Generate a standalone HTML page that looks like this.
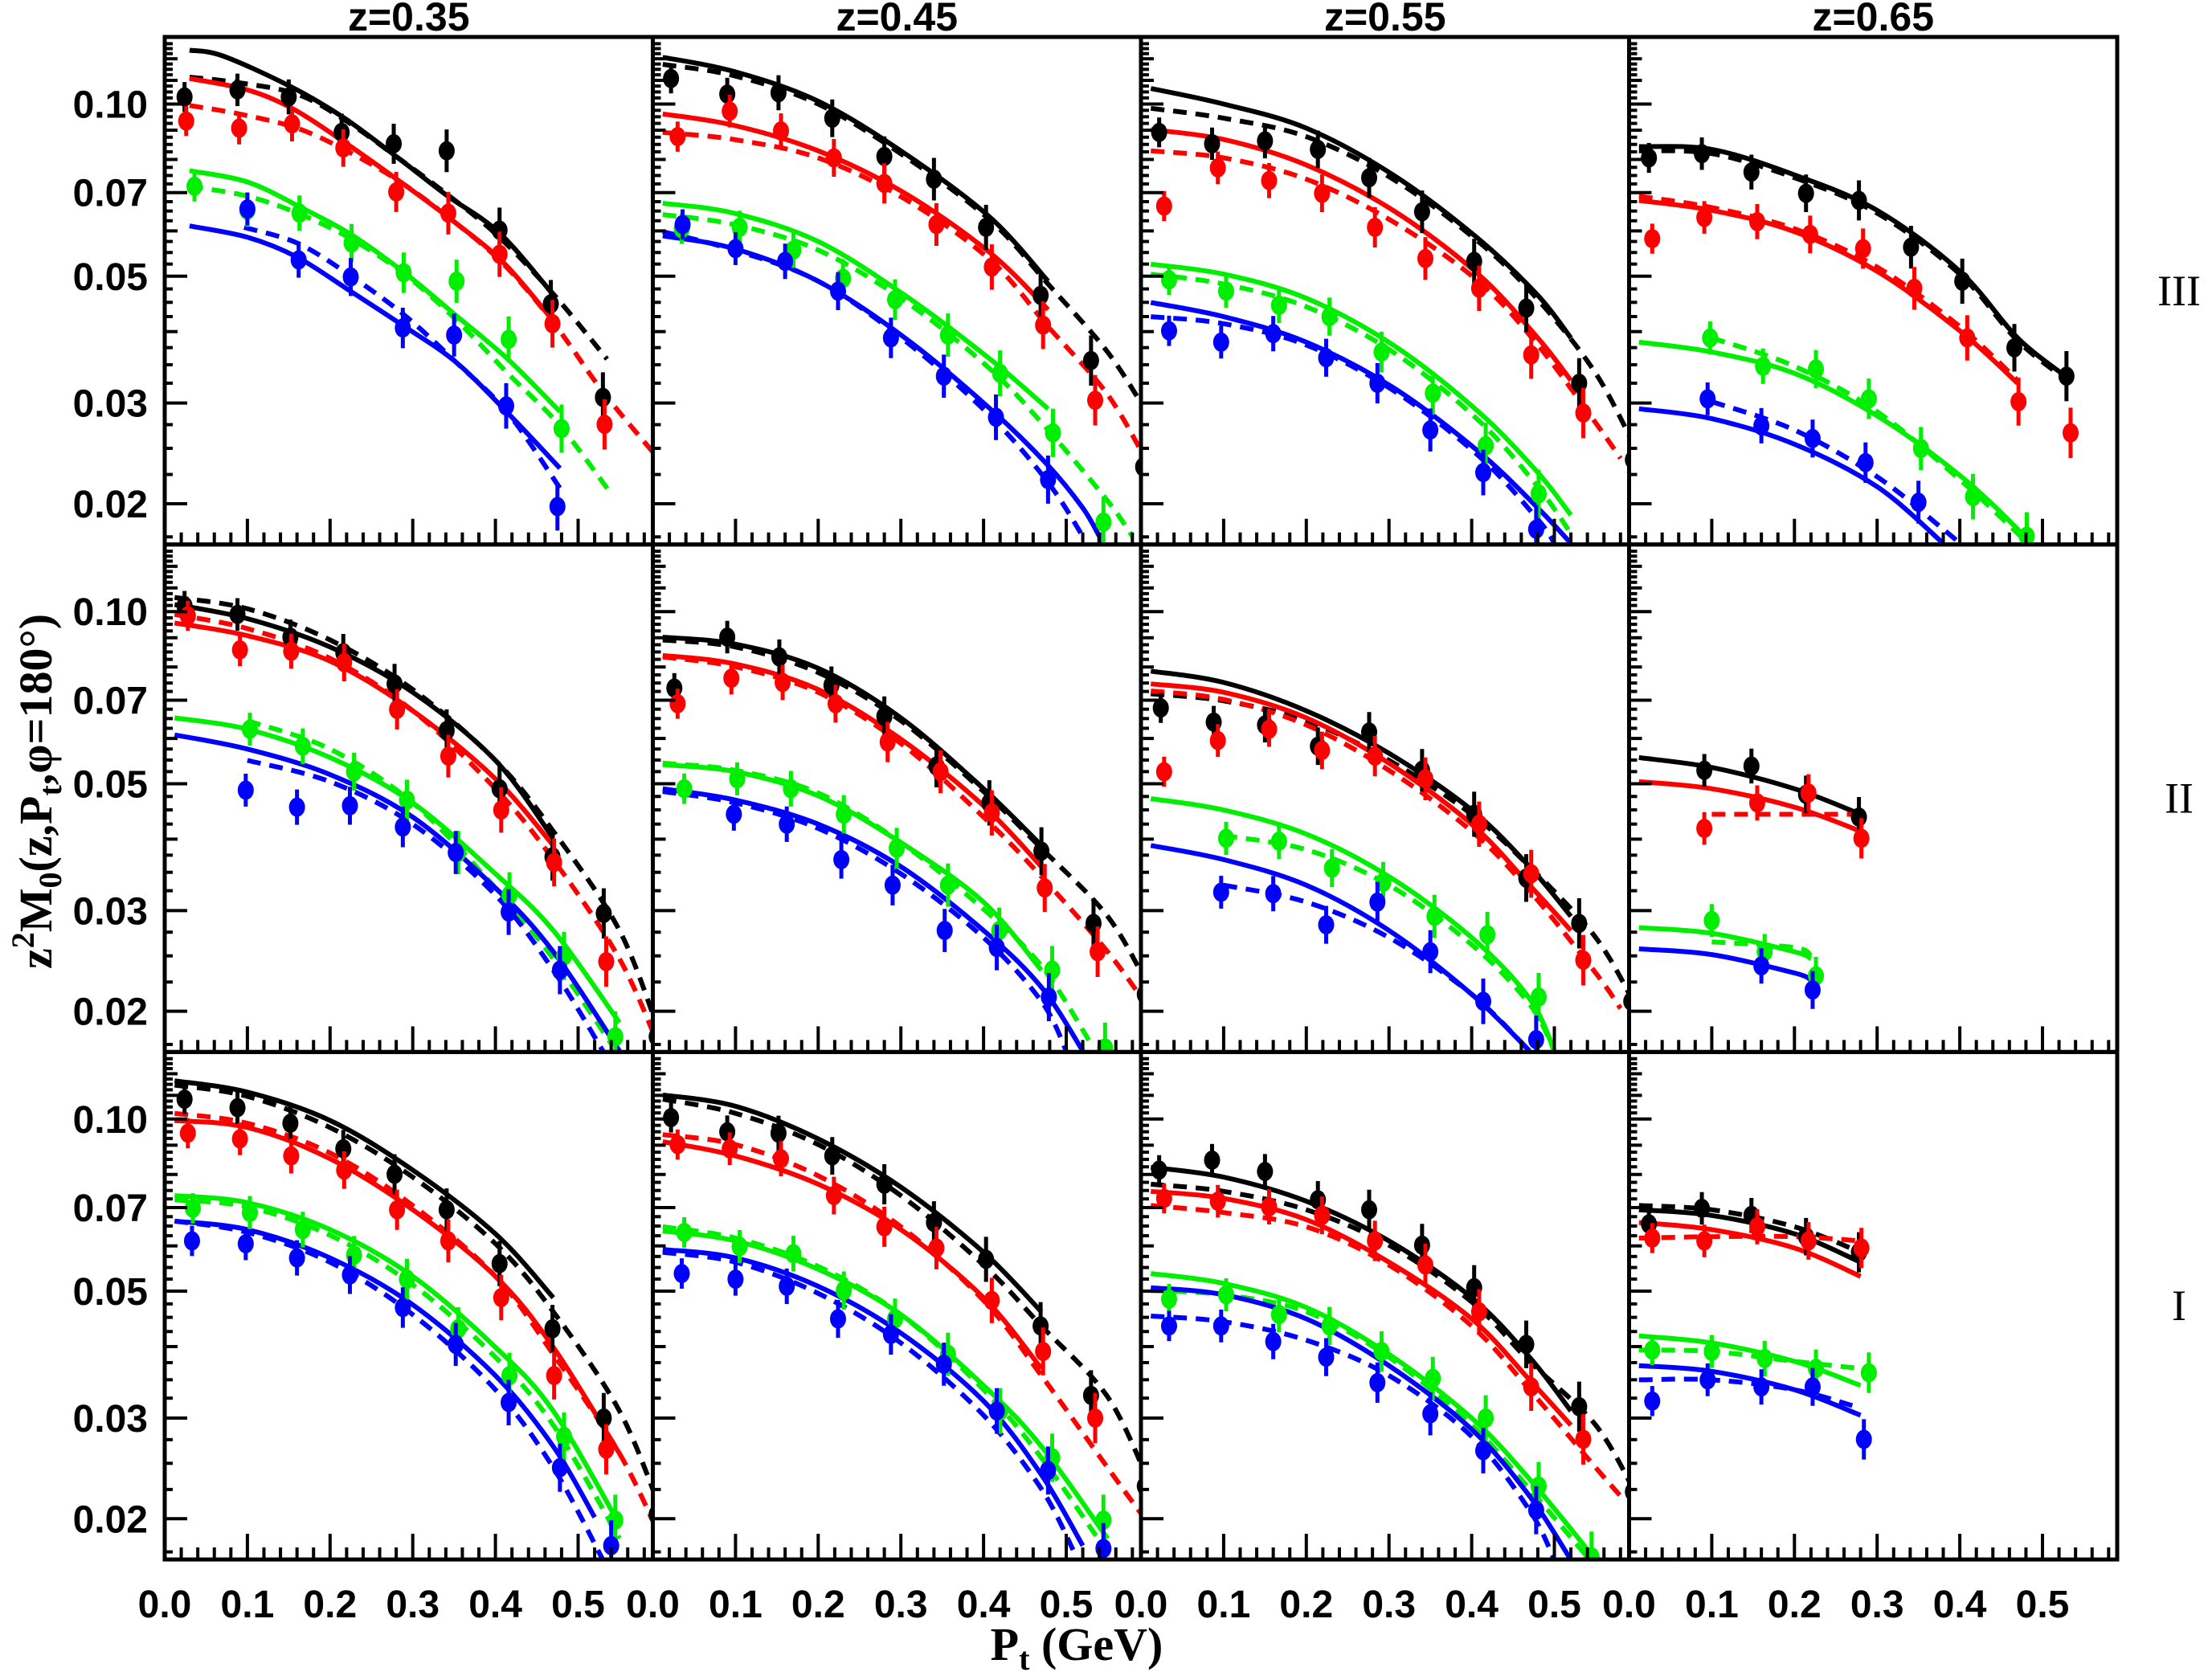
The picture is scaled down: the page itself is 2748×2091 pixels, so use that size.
<!DOCTYPE html>
<html><head><meta charset="utf-8">
<style>
html,body{margin:0;padding:0;background:#fff;}
svg{display:block;}
text{font-family:"Liberation Sans",sans-serif;font-weight:bold;fill:#000;}
</style></head>
<body>
<svg id="s" xmlns="http://www.w3.org/2000/svg" width="2748" height="2091" viewBox="0 0 2748 2091"></svg>
<script>
const S=document.getElementById('s');
const NS='http://www.w3.org/2000/svg';
function el(t,a,txt){const e=document.createElementNS(NS,t);for(const k in a)e.setAttribute(k,a[k]);if(txt!==undefined)e.textContent=txt;S.appendChild(e);return e;}
const colL=[205,812.5,1420,2027.5], colW=607.5;
const rowT=[46,677.7,1309.3], rowH=631.7;
const y10=[75,435,794];
const XS=1029;
function X(c,pt){return colL[c]+pt*XS;}
function Yd(r,yd){return rowT[r]+83.5+(yd-y10[r])*1.764;}
function Yv(r,v){return rowT[r]+83.5-Math.log(v/0.1)*309.1;}
const COL={k:'#000',r:'#ff0000',g:'#00ee00',b:'#0000ff'};
const defs=el('defs',{});
for(let r=0;r<3;r++)for(let c=0;c<4;c++){
  const cp=document.createElementNS(NS,'clipPath');cp.setAttribute('id','c'+r+c);
  const re=document.createElementNS(NS,'rect');
  re.setAttribute('x',colL[c]);re.setAttribute('y',rowT[r]);re.setAttribute('width',colW);re.setAttribute('height',rowH);
  cp.appendChild(re);defs.appendChild(cp);
}
const D={
'00':{p:{k:[[.024,70],[.088,65],[.15,70],[.214,95],[.277,103],[.341,108],[.405,164],[.467,216],[.53,282]],
 r:[[.026,87],[.09,92],[.154,89],[.216,106],[.28,137],[.343,152],[.405,181],[.469,230],[.532,301]],
 g:[[.036,133],[.1,150],[.163,152],[.226,173],[.289,194],[.353,200],[.416,241],[.48,304]],
 b:[[.1,149],[.162,185],[.225,197],[.288,233],[.35,238],[.413,288],[.475,359]]},
 c:{ks:[[.03,37],[.07,41],[.15,62],[.215,84],[.28,112],[.34,139],[.405,166],[.472,211]],
 kd:[[.03,56],[.09,60],[.16,68],[.217,86],[.28,112],[.34,138],[.403,168],[.47,209],[.535,255]],
 rs:[[.03,57],[.1,65],[.157,79],[.22,103],[.283,129],[.35,158],[.41,187],[.47,228]],
 rd:[[.03,76],[.09,82],[.16,92],[.22,108],[.285,130],[.35,158],[.41,188],[.47,229],[.53,278],[.594,323]],
 gs:[[.03,122],[.1,130],[.165,148],[.228,168],[.29,194],[.352,224],[.415,255],[.478,292]],
 gd:[[.03,133],[.1,140],[.165,153],[.228,171],[.29,195],[.352,227],[.415,265],[.478,302],[.54,350]],
 bs:[[.03,161],[.1,169],[.16,183],[.222,206],[.29,232],[.352,257],[.415,293],[.478,332]],
 bd:[[.096,162],[.16,173],[.222,195],[.29,224],[.352,257],[.415,293],[.478,346]]}},
'01':{p:{k:[[.022,57],[.09,68],[.152,67],[.217,85],[.28,112],[.34,128],[.403,162],[.469,210],[.53,256],[.593,331]],
 r:[[.03,98],[.093,80],[.155,94],[.219,113],[.28,131],[.343,160],[.41,190],[.472,231],[.535,284]],
 g:[[.035,163],[.105,162],[.17,178],[.23,198],[.293,213],[.357,238],[.42,265],[.484,307],[.545,370]],
 b:[[.036,160],[.1,177],[.16,186],[.224,207],[.288,240],[.352,267],[.415,296],[.478,340],[.54,395]]},
 c:{ks:[[.012,42],[.098,52],[.2,73],[.305,110],[.408,155],[.478,200]],
 kd:[[.012,47],[.098,55],[.2,75],[.305,112],[.408,157],[.478,202],[.55,250],[.6,295]],
 rs:[[.012,82],[.098,90],[.2,108],[.305,138],[.408,180],[.478,220]],
 rd:[[.012,95],[.098,100],[.2,113],[.305,142],[.408,185],[.478,232],[.55,280],[.6,330]],
 gs:[[.012,145],[.098,152],[.2,172],[.305,210],[.408,255],[.478,290]],
 gd:[[.012,153],[.098,160],[.2,178],[.305,214],[.408,262],[.478,305],[.55,355],[.58,380]],
 bs:[[.012,168],[.098,177],[.2,200],[.305,240],[.408,290],[.478,330],[.52,360],[.54,380]],
 bd:[[.012,165],[.098,178],[.2,200],[.305,242],[.408,295],[.478,342],[.52,380]]}},
'02':{p:{k:[[.022,95],[.086,103],[.15,101],[.214,107],[.276,127],[.34,151],[.403,186],[.466,219],[.53,272],[.595,326]],
 r:[[.028,147],[.093,120],[.155,129],[.219,138],[.283,162],[.344,184],[.409,205],[.472,252],[.535,293]],
 g:[[.034,199],[.103,207],[.167,217],[.228,225],[.291,250],[.353,279],[.417,316],[.481,350]],
 b:[[.034,235],[.097,243],[.16,237],[.224,254],[.286,272],[.35,305],[.414,335],[.478,375]]},
 c:{ks:[[.012,64],[.1,75],[.2,92],[.305,125],[.408,170],[.48,210],[.52,240]],
 kd:[[.012,78],[.1,85],[.2,98],[.305,128],[.408,172],[.48,213],[.55,265],[.6,320]],
 rs:[[.012,93],[.1,100],[.2,118],[.305,150],[.408,195],[.48,240],[.52,270]],
 rd:[[.012,108],[.1,113],[.2,128],[.305,158],[.408,200],[.48,245],[.55,300],[.58,325]],
 gs:[[.012,188],[.1,195],[.2,212],[.305,245],[.408,292],[.48,335],[.52,365]],
 gd:[[.012,195],[.1,202],[.2,218],[.305,250],[.408,298],[.48,345],[.52,378]],
 bs:[[.012,215],[.1,225],[.2,243],[.305,275],[.408,320],[.48,360],[.52,385]],
 bd:[[.012,225],[.1,230],[.2,245],[.305,277],[.408,323],[.48,368],[.5,385]]}},
'03':{p:{k:[[.024,113],[.088,110],[.148,123],[.214,138],[.278,143],[.341,176],[.403,200],[.466,247],[.529,267]],
 r:[[.028,170],[.091,155],[.155,158],[.219,167],[.283,177],[.345,205],[.409,240],[.471,285],[.534,307]],
 g:[[.098,240],[.162,260],[.226,262],[.29,283],[.353,318],[.416,352],[.481,380]],
 b:[[.095,283],[.16,302],[.222,311],[.286,328],[.35,356]]},
 c:{ks:[[.012,105],[.1,107],[.2,125],[.3,150],[.4,193],[.47,240],[.53,268]],
 kd:[[.012,108],[.1,110],[.2,127],[.3,152],[.4,195],[.47,242],[.53,270]],
 rs:[[.012,143],[.1,150],[.2,165],[.3,193],[.4,235],[.47,272]],
 rd:[[.012,140],[.1,148],[.2,163],[.3,190],[.4,232],[.47,270]],
 gs:[[.012,243],[.1,250],[.2,265],[.3,295],[.4,337],[.47,375],[.49,390]],
 gd:[[.1,240],[.2,260],[.3,292],[.4,340],[.47,378],[.49,390]],
 bs:[[.012,290],[.1,297],[.2,315],[.3,345],[.38,385]],
 bd:[[.1,285],[.2,305],[.3,338],[.38,375],[.41,390]]}},
'10':{p:{k:[[.024,431],[.088,437],[.152,453],[.216,464],[.278,486],[.341,519],[.405,560],[.469,608],[.531,648],[.595,735]],
 r:[[.028,438],[.091,462],[.153,463],[.217,471],[.281,504],[.343,537],[.407,575],[.471,612],[.534,682]],
 g:[[.103,518],[.167,530],[.229,548],[.293,568],[.355,605],[.417,635],[.483,678],[.545,735]],
 b:[[.098,561],[.16,573],[.224,572],[.288,587],[.352,605],[.416,647],[.478,688]]},
 c:{ks:[[.012,430],[.1,440],[.2,460],[.3,492],[.4,540],[.47,595]],
 kd:[[.012,425],[.1,433],[.2,455],[.3,490],[.4,540],[.47,590],[.55,660],[.6,735]],
 rs:[[.012,443],[.1,452],[.2,470],[.3,505],[.4,553],[.47,600]],
 rd:[[.012,437],[.1,447],[.2,468],[.3,505],[.4,560],[.47,610],[.55,680],[.6,745]],
 gs:[[.012,510],[.1,518],[.2,538],[.3,570],[.4,620],[.47,660],[.55,725]],
 gd:[[.1,512],[.2,532],[.3,570],[.4,630],[.47,680],[.54,740]],
 bs:[[.012,522],[.1,532],[.2,550],[.3,580],[.4,630],[.47,675],[.55,745]],
 bd:[[.1,540],[.2,555],[.3,585],[.4,635],[.47,688],[.53,745]]}},
'11':{p:{k:[[.026,489],[.09,453],[.153,467],[.216,487],[.28,509],[.343,544],[.407,570],[.47,604],[.533,655],[.595,705]],
 r:[[.03,500],[.095,482],[.157,485],[.221,500],[.284,527],[.348,548],[.41,577],[.474,630],[.538,675]],
 g:[[.038,560],[.102,553],[.167,560],[.231,578],[.295,602],[.357,628],[.419,660],[.483,688],[.547,743]],
 b:[[.098,578],[.162,585],[.228,610],[.29,628],[.353,660],[.416,672],[.479,707]]},
 c:{ks:[[.012,453],[.1,458],[.2,475],[.3,510],[.4,560],[.47,600]],
 kd:[[.012,455],[.1,460],[.2,478],[.3,512],[.4,562],[.47,602],[.55,650],[.6,700]],
 rs:[[.012,466],[.1,472],[.2,490],[.3,525],[.4,572],[.47,615]],
 rd:[[.012,467],[.1,474],[.2,492],[.3,528],[.4,580],[.47,622],[.55,675],[.6,715]],
 gs:[[.012,543],[.1,548],[.2,565],[.3,598],[.4,640],[.47,688]],
 gd:[[.012,542],[.1,547],[.2,563],[.3,598],[.4,645],[.47,685],[.53,740]],
 bs:[[.012,560],[.1,568],[.2,585],[.3,615],[.4,660],[.47,700],[.52,745]],
 bd:[[.012,562],[.1,570],[.2,588],[.3,620],[.4,665],[.47,710],[.5,745]]}},
'12':{p:{k:[[.024,503],[.088,513],[.15,515],[.214,530],[.276,520],[.34,547],[.403,578],[.466,623],[.53,655],[.593,710]],
 r:[[.028,548],[.093,526],[.155,518],[.219,533],[.283,537],[.344,553],[.409,585],[.472,620],[.535,681]],
 g:[[.103,595],[.167,597],[.231,616],[.293,626],[.355,650],[.419,663],[.481,707]],
 b:[[.097,633],[.16,634],[.224,656],[.286,640],[.35,675],[.414,710],[.478,737]]},
 c:{ks:[[.012,477],[.1,485],[.2,505],[.3,535],[.4,575],[.47,615],[.52,650]],
 kd:[[.012,493],[.1,498],[.2,512],[.3,540],[.4,578],[.47,615],[.55,665],[.6,715]],
 rs:[[.012,486],[.1,492],[.2,510],[.3,542],[.4,585],[.47,628],[.52,660]],
 rd:[[.012,491],[.1,497],[.2,515],[.3,547],[.4,590],[.47,632],[.55,690],[.58,715]],
 gs:[[.012,567],[.1,575],[.2,592],[.3,622],[.4,665],[.47,708],[.5,745]],
 gd:[[.1,593],[.2,603],[.3,628],[.4,670],[.47,712],[.5,745]],
 bs:[[.012,600],[.1,610],[.2,628],[.3,660],[.4,705],[.47,745]],
 bd:[[.1,628],[.2,640],[.3,665],[.4,705],[.47,745]]}},
'13':{p:{k:[[.091,547],[.148,544],[.214,564],[.278,580]],
 r:[[.091,588],[.155,570],[.217,563],[.281,595]],
 g:[[.1,653],[.164,675],[.226,692]],
 b:[[.16,685],[.222,702]]},
 c:{ks:[[.012,538],[.1,545],[.2,560],[.28,578]],
 rs:[[.012,555],[.1,560],[.2,573],[.28,590]],
 rd:[[.1,578],[.2,578],[.28,578]],
 gs:[[.012,658],[.1,662],[.2,675],[.22,680]],
 gd:[[.1,668],[.2,672],[.22,678]],
 bs:[[.012,673],[.1,677],[.2,690],[.22,695]]}},
'20':{p:{k:[[.024,780],[.088,786],[.152,797],[.216,815],[.278,833],[.341,858],[.405,896],[.469,942],[.531,1005],[.595,1073]],
 r:[[.028,804],[.091,808],[.153,820],[.217,830],[.281,858],[.343,880],[.407,920],[.471,975],[.534,1027]],
 g:[[.034,857],[.103,860],[.167,872],[.229,890],[.293,907],[.355,942],[.417,975],[.483,1018],[.545,1077]],
 b:[[.033,880],[.098,882],[.16,892],[.224,904],[.288,927],[.352,953],[.416,994],[.478,1040],[.54,1095]]},
 c:{ks:[[.012,767],[.1,775],[.2,795],[.3,830],[.4,875],[.47,920]],
 kd:[[.012,770],[.1,778],[.2,800],[.3,835],[.4,882],[.47,930],[.55,1000],[.6,1070]],
 rs:[[.012,795],[.1,800],[.2,822],[.3,858],[.4,905],[.47,955],[.55,1030]],
 rd:[[.012,790],[.1,797],[.2,818],[.3,855],[.4,905],[.47,960],[.55,1030],[.6,1090]],
 gs:[[.012,848],[.1,853],[.2,872],[.3,905],[.4,955],[.47,1000],[.55,1080]],
 gd:[[.012,851],[.1,856],[.2,876],[.3,911],[.4,962],[.47,1010],[.55,1090]],
 bs:[[.012,866],[.1,872],[.2,892],[.3,925],[.4,975],[.47,1025],[.52,1075]],
 bd:[[.012,866],[.1,874],[.2,895],[.3,932],[.4,985],[.47,1040],[.53,1105]]}},
'21':{p:{k:[[.022,793],[.09,803],[.152,804],[.217,820],[.28,840],[.34,867],[.403,893],[.469,940],[.53,989],[.595,1053]],
 r:[[.03,812],[.093,815],[.155,822],[.219,848],[.28,870],[.343,885],[.41,922],[.472,958],[.535,1005]],
 g:[[.038,874],[.105,884],[.17,889],[.231,915],[.293,935],[.357,960],[.42,1000],[.483,1033],[.545,1077]],
 b:[[.035,903],[.1,907],[.162,912],[.224,935],[.288,946],[.352,967],[.416,1000],[.478,1042],[.545,1097]]},
 c:{ks:[[.012,777],[.1,785],[.2,808],[.3,842],[.4,888],[.47,930]],
 kd:[[.012,780],[.1,790],[.2,812],[.3,848],[.4,897],[.47,940],[.55,990],[.6,1050]],
 rs:[[.012,810],[.1,820],[.2,840],[.3,872],[.4,920],[.47,970]],
 rd:[[.012,805],[.1,812],[.2,834],[.3,870],[.4,922],[.47,975],[.55,1040],[.6,1080]],
 gs:[[.012,873],[.1,880],[.2,900],[.3,932],[.4,982],[.47,1025],[.55,1090]],
 gd:[[.012,870],[.1,878],[.2,898],[.3,932],[.4,985],[.47,1033],[.55,1100]],
 bs:[[.012,886],[.1,892],[.2,912],[.3,945],[.4,993],[.47,1045],[.52,1095]],
 bd:[[.012,888],[.1,895],[.2,917],[.3,952],[.4,1003],[.47,1055],[.51,1100]]}},
'22':{p:{k:[[.022,830],[.086,823],[.15,831],[.214,851],[.276,858],[.34,883],[.403,913],[.466,953],[.53,997],[.595,1057]],
 r:[[.028,850],[.093,852],[.155,856],[.219,862],[.283,880],[.344,897],[.409,930],[.472,983],[.535,1020]],
 g:[[.034,921],[.103,918],[.167,932],[.228,940],[.291,958],[.353,977],[.417,1005],[.481,1053],[.545,1103]],
 b:[[.034,940],[.097,940],[.16,951],[.224,962],[.286,980],[.35,1002],[.414,1028],[.478,1070]]},
 c:{ks:[[.012,828],[.1,835],[.2,852],[.3,880],[.4,920],[.47,962],[.52,1000]],
 kd:[[.012,840],[.1,845],[.2,858],[.3,883],[.4,923],[.47,965],[.55,1010],[.6,1060]],
 rs:[[.012,845],[.1,850],[.2,865],[.3,895],[.4,935],[.47,978],[.52,1010]],
 rd:[[.012,855],[.1,860],[.2,870],[.3,897],[.4,940],[.47,985],[.55,1040],[.58,1060]],
 gs:[[.012,903],[.1,910],[.2,927],[.3,960],[.4,1005],[.47,1048],[.55,1105]],
 gd:[[.012,915],[.1,918],[.2,930],[.3,962],[.4,1010],[.47,1055],[.55,1110]],
 bs:[[.012,913],[.1,918],[.2,935],[.3,968],[.4,1013],[.47,1060],[.52,1105]],
 bd:[[.012,933],[.1,937],[.2,950],[.3,975],[.4,1018],[.47,1070],[.5,1105]]}},
'23':{p:{k:[[.024,868],[.088,857],[.148,862],[.214,877],[.278,888]],
 r:[[.028,878],[.091,880],[.155,870],[.217,880],[.281,885]],
 g:[[.028,957],[.1,958],[.164,963],[.226,970],[.29,973]],
 b:[[.028,993],[.095,978],[.16,983],[.222,983],[.284,1020]]},
 c:{ks:[[.012,858],[.1,862],[.2,875],[.28,895]],
 kd:[[.012,855],[.1,858],[.2,870],[.28,888]],
 rs:[[.012,867],[.1,872],[.2,885],[.28,905]],
 rd:[[.012,878],[.1,877],[.2,877],[.28,880]],
 gs:[[.012,947],[.1,952],[.2,965],[.28,982]],
 gd:[[.012,957],[.1,958],[.2,965],[.28,970]],
 bs:[[.012,968],[.1,972],[.2,985],[.28,1003]],
 bd:[[.012,978],[.1,978],[.2,985],[.28,998]]}}
};
function smoothPath(P){
  let d='M'+P[0][0].toFixed(1)+' '+P[0][1].toFixed(1);
  for(let i=0;i<P.length-1;i++){
    const p0=P[i-1]||P[i],p1=P[i],p2=P[i+1],p3=P[i+2]||P[i+1];
    const c1=[p1[0]+(p2[0]-p0[0])/6,p1[1]+(p2[1]-p0[1])/6];
    const c2=[p2[0]-(p3[0]-p1[0])/6,p2[1]-(p3[1]-p1[1])/6];
    d+=' C'+c1[0].toFixed(1)+' '+c1[1].toFixed(1)+' '+c2[0].toFixed(1)+' '+c2[1].toFixed(1)+' '+p2[0].toFixed(1)+' '+p2[1].toFixed(1);
  }
  return d;
}
for(let r=0;r<3;r++)for(let c=0;c<4;c++){
  const d=D[''+r+c];const g=el('g',{'clip-path':'url(#c'+r+c+')'});
  for(const key in d.c){
    const col=COL[key[0]];const P=d.c[key].map(q=>[X(c,q[0]),Yd(r,q[1])]);
    const p=document.createElementNS(NS,'path');
    p.setAttribute('d',smoothPath(P));p.setAttribute('fill','none');p.setAttribute('stroke',col);
    p.setAttribute('stroke-width','6');
    if(key[1]=='d')p.setAttribute('stroke-dasharray','17 11');
    g.appendChild(p);
  }
  for(const key in d.p){
    const col=COL[key];
    d.p[key].forEach(q=>{
      const x=X(c,q[0]),y=Yd(r,q[1]);const e=18+q[0]*25;
      const l=document.createElementNS(NS,'line');
      l.setAttribute('x1',x);l.setAttribute('x2',x);l.setAttribute('y1',y-e);l.setAttribute('y2',y+e);
      l.setAttribute('stroke',col);l.setAttribute('stroke-width','5');g.appendChild(l);
      const ci=document.createElementNS(NS,'ellipse');
      ci.setAttribute('cx',x);ci.setAttribute('cy',y);ci.setAttribute('rx',10);ci.setAttribute('ry',12);ci.setAttribute('fill',col);g.appendChild(ci);
    });
  }
  S.appendChild(g);
}
for(let r=0;r<3;r++){
  for(let c=0;c<4;c++){
    const x0=colL[c],yb=rowT[r]+rowH;
    for(let i=0;i<=29;i++){
      const pt=i*0.02;const x=X(c,pt);if(x>colL[c]+colW-2)break;
      const major=(i%5==0);
      el('line',{x1:x,x2:x,y1:yb,y2:yb-(major?32:15),stroke:'#000','stroke-width':4});
    }
    const majors=[0.02,0.03,0.05,0.07,0.10];
    for(let v=0.0175;v<=0.131;v+=0.0025){
      const vv=Math.round(v*10000)/10000;
      const y=Yv(r,vv);if(y<rowT[r]+3||y>rowT[r]+rowH-3)continue;
      const isMaj=majors.some(m=>Math.abs(m-vv)<1e-6);
      const isMid=Math.abs(vv*100-Math.round(vv*100))<1e-6;
      el('line',{x1:x0,x2:x0+(isMaj?28:(isMid?16:10)),y1:y,y2:y,stroke:'#000','stroke-width':4});
    }
  }
  [[0.10,'0.10'],[0.07,'0.07'],[0.05,'0.05'],[0.03,'0.03'],[0.02,'0.02']].forEach(t=>{
    el('text',{x:184,y:Yv(r,t[0])+17,'text-anchor':'end','font-size':48},t[1]);
  });
}
for(let r=0;r<3;r++)for(let c=0;c<4;c++)
  el('rect',{x:colL[c],y:rowT[r],width:colW,height:rowH,fill:'none',stroke:'#000','stroke-width':5});
for(let c=0;c<4;c++)for(let i=0;i<=5;i++){
  el('text',{x:X(c,i*0.1),y:2013,'text-anchor':'middle','font-size':48},(i/10).toFixed(1));
}
['z=0.35','z=0.45','z=0.55','z=0.65'].forEach((t,c)=>el('text',{x:colL[c]+colW/2,y:38,'text-anchor':'middle','font-size':50},t));
[['III',0],['II',1],['I',2]].forEach(t=>{
  el('text',{x:2712,y:rowT[t[1]]+rowH/2+18,'text-anchor':'middle','font-size':54,style:'font-family:"Liberation Serif",serif;font-weight:normal'},t[0]);
});
const xl=el('text',{x:1340,y:2066,'text-anchor':'middle','font-size':58,style:'font-family:"Liberation Serif",serif'});
xl.innerHTML='P<tspan font-size="40" dy="12">t</tspan><tspan dy="-12">  (GeV)</tspan>';
const yl=el('text',{x:0,y:0,'text-anchor':'middle','font-size':58,transform:'translate(64,985) rotate(-90)',style:'font-family:"Liberation Serif",serif'});
yl.innerHTML='z<tspan font-size="40" dy="-22">2</tspan><tspan dy="22">M</tspan><tspan font-size="40" dy="12">0</tspan><tspan dy="-12">(z,P</tspan><tspan font-size="40" dy="12">t</tspan><tspan dy="-12">,φ=180°)</tspan>';
</script>
</body></html>
